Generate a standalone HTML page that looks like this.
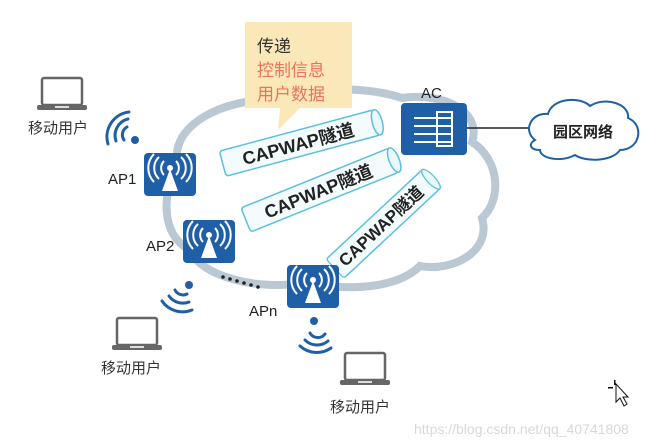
<!DOCTYPE html>
<html><head><meta charset="utf-8"><style>
html,body{margin:0;padding:0;background:#fff;}
svg{display:block;font-family:"Liberation Sans","Noto Sans CJK SC",sans-serif;}
</style></head><body>
<svg width="667" height="445" viewBox="0 0 667 445" xmlns="http://www.w3.org/2000/svg">
<defs>
<g id="ap">
<rect x="0" y="0" width="52" height="43" rx="4" fill="#1f5fa8"/>
<path d="M26 16 L18 38 L34 38 Z" fill="#fff"/>
<circle cx="26" cy="15" r="3" fill="#fff"/>
<g fill="none" stroke="#fff" stroke-width="2">
<path d="M20 8 A10 10 0 0 0 20 22"/><path d="M32 8 A10 10 0 0 1 32 22"/>
<path d="M15 4 A15 15 0 0 0 15 26"/><path d="M37 4 A15 15 0 0 1 37 26"/>
<path d="M10 1 A20 20 0 0 0 10 29"/><path d="M42 1 A20 20 0 0 1 42 29"/>
</g></g>
<g id="laptop">
<rect x="5" y="0" width="40" height="27" rx="2" fill="#fff" stroke="#666" stroke-width="2.5"/>
<rect x="0" y="27" width="50" height="5" rx="2" fill="#666"/>
<rect x="18" y="28" width="14" height="2" fill="#ddd"/>
</g>
<g id="tun">
<rect x="-80" y="-13" width="160" height="26" rx="3" fill="#f4fbfd" stroke="#5bc0de" stroke-width="1.5"/>
<ellipse cx="80" cy="0" rx="5" ry="13" fill="#eaf7fb" stroke="#5bc0de" stroke-width="1.5"/>
</g>
</defs>
<!-- cloud ring -->
<path d="M178 165 C168 125 225 98 275 100 C305 86 365 86 402 98 C445 92 482 112 472 142 C500 160 502 200 482 218 C492 252 452 272 420 266 C398 288 348 292 308 282 C258 292 200 276 190 250 C160 235 162 192 178 165 Z" fill="none" stroke="#b9c8d3" stroke-width="8"/>
<!-- callout -->
<path d="M245 22 L352 22 L352 108 L300 108 L278 130 L280 108 L245 108 Z" fill="#fbe8b8"/>
<text x="257" y="52" font-size="17" fill="#333">传递</text>
<text x="257" y="76" font-size="17" fill="#e9735c">控制信息</text>
<text x="257" y="100" font-size="17" fill="#e9735c">用户数据</text>
<!-- tunnels -->
<g transform="translate(300,143) rotate(-15)"><use href="#tun"/><text x="-2" y="7" text-anchor="middle" font-size="18" font-weight="bold" fill="#222">CAPWAP隧道</text></g>
<g transform="translate(320,190) rotate(-22)"><use href="#tun"/><text x="-2" y="7" text-anchor="middle" font-size="18" font-weight="bold" fill="#222">CAPWAP隧道</text></g>
<g transform="translate(383,224) rotate(-43) scale(0.82,1)"><use href="#tun"/></g>
<g transform="translate(381,226) rotate(-43)"><text x="0" y="6" text-anchor="middle" font-size="17" font-weight="bold" fill="#222">CAPWAP隧道</text></g>
<!-- AC -->
<text x="421" y="98" font-size="15" fill="#222">AC</text>
<rect x="401" y="103" width="66" height="52" rx="4" fill="#1f5fa8"/>
<g stroke="#fff" stroke-width="2" fill="none">
<rect x="437" y="112" width="15" height="34"/>
<line x1="414" y1="118" x2="452" y2="118"/><line x1="414" y1="126" x2="452" y2="126"/><line x1="414" y1="134" x2="452" y2="134"/><line x1="414" y1="142" x2="452" y2="142"/>
</g>
<line x1="467" y1="128" x2="530" y2="128" stroke="#222" stroke-width="1.5"/>
<path d="M535 140 C522 130 532 112 548 114 C552 98 580 96 590 106 C605 96 630 104 628 118 C645 125 640 150 620 150 C612 162 585 162 575 155 C560 163 540 158 540 150 C530 150 528 144 535 140 Z" fill="#fff" stroke="#1f5fa8" stroke-width="2"/>
<text x="583" y="137" text-anchor="middle" font-size="15" font-weight="bold" fill="#222">园区网络</text>
<!-- APs -->
<use href="#ap" x="144" y="153"/><text x="108" y="184" font-size="15" fill="#222">AP1</text>
<use href="#ap" x="183" y="220"/><text x="146" y="251" font-size="15" fill="#222">AP2</text>
<use href="#ap" x="287" y="265"/><text x="249" y="316" font-size="15" fill="#222">APn</text>
<g fill="#222"><circle cx="223" cy="277" r="1.8"/><circle cx="230" cy="279" r="1.8"/><circle cx="237" cy="281" r="1.8"/><circle cx="244" cy="283" r="1.8"/><circle cx="251" cy="285" r="1.8"/><circle cx="258" cy="287" r="1.8"/></g>
<!-- wifi signals -->
<g fill="none" stroke="#1f5fa8" stroke-width="3" stroke-linecap="round">
<path d="M127 127 A9 9 0 0 0 124 140"/><path d="M128 119 A17 17 0 0 0 116 141"/><path d="M129 112 A25 25 0 0 0 108 144"/>
<path d="M175 290 A9 9 0 0 0 187 294"/><path d="M169 296 A17 17 0 0 0 189 302"/><path d="M162 301 A25 25 0 0 0 192 310"/>
<path d="M310 333 A9 9 0 0 0 325 334"/><path d="M305 340 A17 17 0 0 0 328 341"/><path d="M300 346 A25 25 0 0 0 331 348"/>
</g>
<g fill="#1f5fa8"><circle cx="135" cy="140" r="4"/><circle cx="189" cy="285" r="4"/><circle cx="314" cy="321" r="4"/></g>
<!-- laptops -->
<use href="#laptop" x="37" y="78"/><text x="28" y="133" font-size="15" fill="#333">移动用户</text>
<use href="#laptop" x="112" y="318"/><text x="101" y="373" font-size="15" fill="#333">移动用户</text>
<use href="#laptop" x="340" y="353"/><text x="330" y="412" font-size="15" fill="#333">移动用户</text>
<!-- cursor -->
<path d="M616 384 L616 402 L620 398 L624 406 L627 404 L623 397 L628 397 Z" fill="#fff" stroke="#111" stroke-width="1"/>
<g fill="#111"><rect x="614" y="380" width="1.5" height="5"/><rect x="608" y="387" width="5" height="1.5"/></g>
<text x="414" y="434" font-size="14" fill="#d8d8d8">https://blog.csdn.net/qq_40741808</text>
</svg>
</body></html>
